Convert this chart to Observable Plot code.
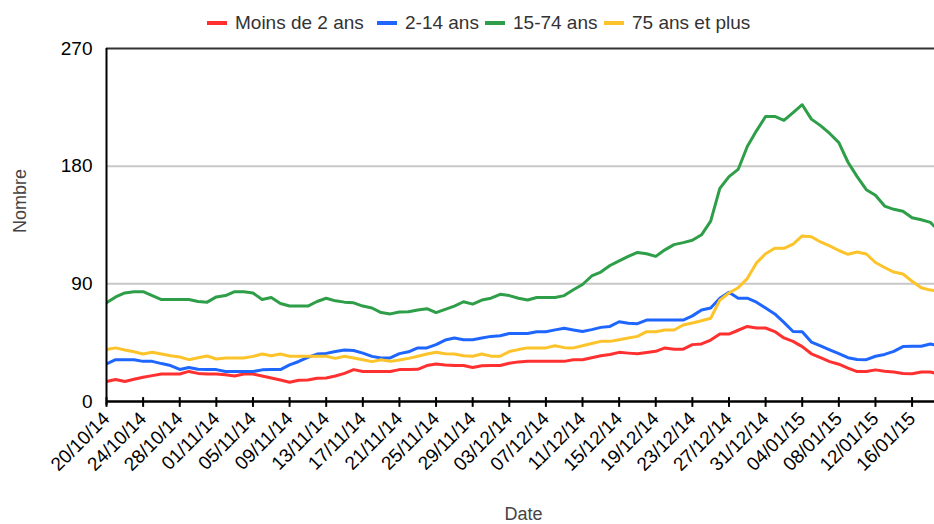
<!DOCTYPE html>
<html>
<head>
<meta charset="utf-8">
<script src="https://cdn.jsdelivr.net/npm/d3@7"></script>
<script src="https://cdn.jsdelivr.net/npm/@observablehq/plot@0.6"></script>
<style>
  html, body { margin: 0; padding: 0; background: white; }
  body { width: 934px; height: 524px; overflow: hidden; font-family: "Liberation Sans", Arial, sans-serif; }
  #legend { position: relative; height: 40px; width: 934px; }
  .sw { position: absolute; top: 21px; width: 20px; height: 4px; }
  .lt { position: absolute; top: 12px; font-size: 19px; color: #333; line-height: 22px; white-space: nowrap; }
</style>
</head>
<body>
<div id="legend"></div>
<div id="chart"></div>
<script>
// ---- data ----
const startDate = "20/10/14";
const seriesNames = ["Moins de 2 ans", "2-14 ans", "15-74 ans", "75 ans et plus"];
const seriesColors = ["#ff3030", "#1f66ff", "#2e9e48", "#fcc42a"];
const tickLabels = ["20/10/14","24/10/14","28/10/14","01/11/14","05/11/14","09/11/14","13/11/14","17/11/14","21/11/14","25/11/14","29/11/14","03/12/14","07/12/14","11/12/14","15/12/14","19/12/14","23/12/14","27/12/14","31/12/14","04/01/15","08/01/15","12/01/15","16/01/15"];
const yTicks = [0, 90, 180, 270];

const moins2 = [15.3,16.8,15.3,17,18.5,19.8,21,21,21,23, 21.5,21,21,20.5,19.5,21,21,19.5,18,16.5, 14.7,16.3,16.5,17.8,18,19.5,21.5,24.4,23,23, 23,23,24.4,24.4,24.6,27.5,28.7,28,27.5,27.5, 26,27.3,27.5,27.5,29.3,30.3,30.7,30.7,30.7,30.7, 30.7,32,32,33.5,35,36,37.6,37,36.5,37.5, 38.4,41,40,40,43.5,44,47,51.6,51.6,54.5, 57.4,56.2,56.2,53.5,48.6,46,42,36.5,33.5,30.5, 28.5,25.5,22.9,22.9,24.2,23.2,22.5,21.5,21.3,22.6, 22.5,21];
const ans2_14 = [28.7,32,32,32,30.7,30.7,29,27.5,24.5,26, 24.6,24.4,24.4,23,22.9,22.9,22.9,24.2,24.4,24.4, 28,30.6,33.7,36.3,36.8,38.2,39.4,39,37,34.5, 33.3,33.3,36.6,38,41,41,43.5,47,48.5,47.3, 47.3,48.5,49.8,50.3,52,52,52,53.4,53.4,54.8, 56,54.7,53.5,55,56.7,57.4,61,59.8,59.5,62.3, 62.3,62.3,62.3,62.3,65.5,70,71.5,79,83.5,79, 79,76,71.5,67,60.5,53.5,53.4,45.5,42.5,39.5, 36.6,33.5,32.2,32,34.6,36,38.4,42,42.2,42.2, 44,42.5];
const ans15_74 = [75.5,80,83,84,84,81,78,78,78,78, 76.5,76,80,81,84,84,83,78,79.5,75, 73,73,73,76.5,79,77,76,75.5,73,71.5, 68,67,68.5,68.6,70,71,68,70.5,73,76.3, 74.5,77.6,79,82,81,79,77.6,79.5,79.5,79.5, 81,85.5,89.5,96,99,104,107.5,111,114,113, 111,116,120,121.5,123.3,127.5,138,163,172,177.5, 195,207,218,218,215,221,227,216,211,205, 198,183,172,162,157.7,149.5,147,145.5,140.5,139, 137,130];
const ans75plus = [39.7,41,39.4,38,36.3,37.7,36.3,35,34,32, 33.5,34.8,32.5,33.3,33.3,33.3,34.5,36.3,35,36.3, 34.6,34.6,34.6,34.6,34.6,33,34.6,33.3,32,30.5, 32,30.7,31.8,33,34.6,36.3,37.6,36.5,36.3,35, 34.6,36.3,34.7,34.6,38.2,39.7,41,41,41,42.7, 41.2,41,42.6,44.3,46,46,47.3,48.5,49.8,53.4, 53.4,54.7,54.7,58.5,60,61.8,63.7,77.5,83,87, 94,106,113,117.2,117.2,120.3,126.6,126,122,119, 115.5,112.6,114.4,112.8,106.3,102.5,99,97.5,92,87, 85.2,84.5];

// ---- build ----
const parse = d3.utcParse("%d/%m/%y");
const fmt = d3.utcFormat("%d/%m/%y");
const t0 = parse(startDate);
const tickDates = tickLabels.map(parse);
const allSeries = [moins2, ans2_14, ans15_74, ans75plus];
const rows = [];
allSeries.forEach((vals, s) => vals.forEach((v, i) => rows.push({date: d3.utcDay.offset(t0, i), value: v, series: seriesNames[s]})));
const xEnd = new Date(+t0 + 90.45 * 864e5);

// legend
const legend = document.getElementById("legend");
const swX = [207, 377, 485, 604];
const txX = [235, 405, 513, 632];
seriesNames.forEach((n, i) => {
  const sw = document.createElement("div");
  sw.className = "sw"; sw.style.left = swX[i] + "px"; sw.style.background = seriesColors[i];
  const t = document.createElement("div");
  t.className = "lt"; t.style.left = txX[i] + "px"; t.textContent = n;
  legend.appendChild(sw); legend.appendChild(t);
});

const chart = Plot.plot({
  width: 934,
  height: 484,
  marginLeft: 106,
  marginRight: 0,
  marginTop: 8,
  marginBottom: 123,
  style: {fontFamily: "'Liberation Sans', Arial, sans-serif", fontSize: "19px", background: "white", color: "black", overflow: "visible"},
  x: {type: "utc", domain: [t0, xEnd]},
  y: {domain: [0, 270]},
  color: {domain: seriesNames, range: seriesColors},
  marks: [
    Plot.ruleY([90, 180], {stroke: "#c8c8c8", strokeWidth: 2}),
    Plot.ruleY([270], {stroke: "#333", strokeWidth: 2}),
    Plot.line(rows, {x: "date", y: "value", z: "series", stroke: "series", strokeWidth: 3, strokeLinejoin: "round", clip: true}),
    Plot.ruleX([t0], {stroke: "black", strokeWidth: 2, y1: -3, y2: 270}),
    Plot.ruleY([0], {stroke: "black", strokeWidth: 2.5}),
    Plot.ruleX(tickDates, {y1: -4.5, y2: 3, stroke: "black", strokeWidth: 2}),
    Plot.axisY({ticks: yTicks, tickSize: 0, tickPadding: 14, fontSize: 19, label: null}),
    Plot.axisX({ticks: tickDates, tickFormat: fmt, tickRotate: -45, tickSize: 0, tickPadding: 14, fontSize: 19, label: null}),
    Plot.text(["Nombre"], {frameAnchor: "left", dx: -86, dy: 8, rotate: -90, fill: "#444", fontSize: 18}),
    Plot.text(["Date"], {frameAnchor: "bottom", dx: 3, dy: 118, fill: "#444", fontSize: 18})
  ]
});
document.getElementById("chart").appendChild(chart);
</script>
</body>
</html>
